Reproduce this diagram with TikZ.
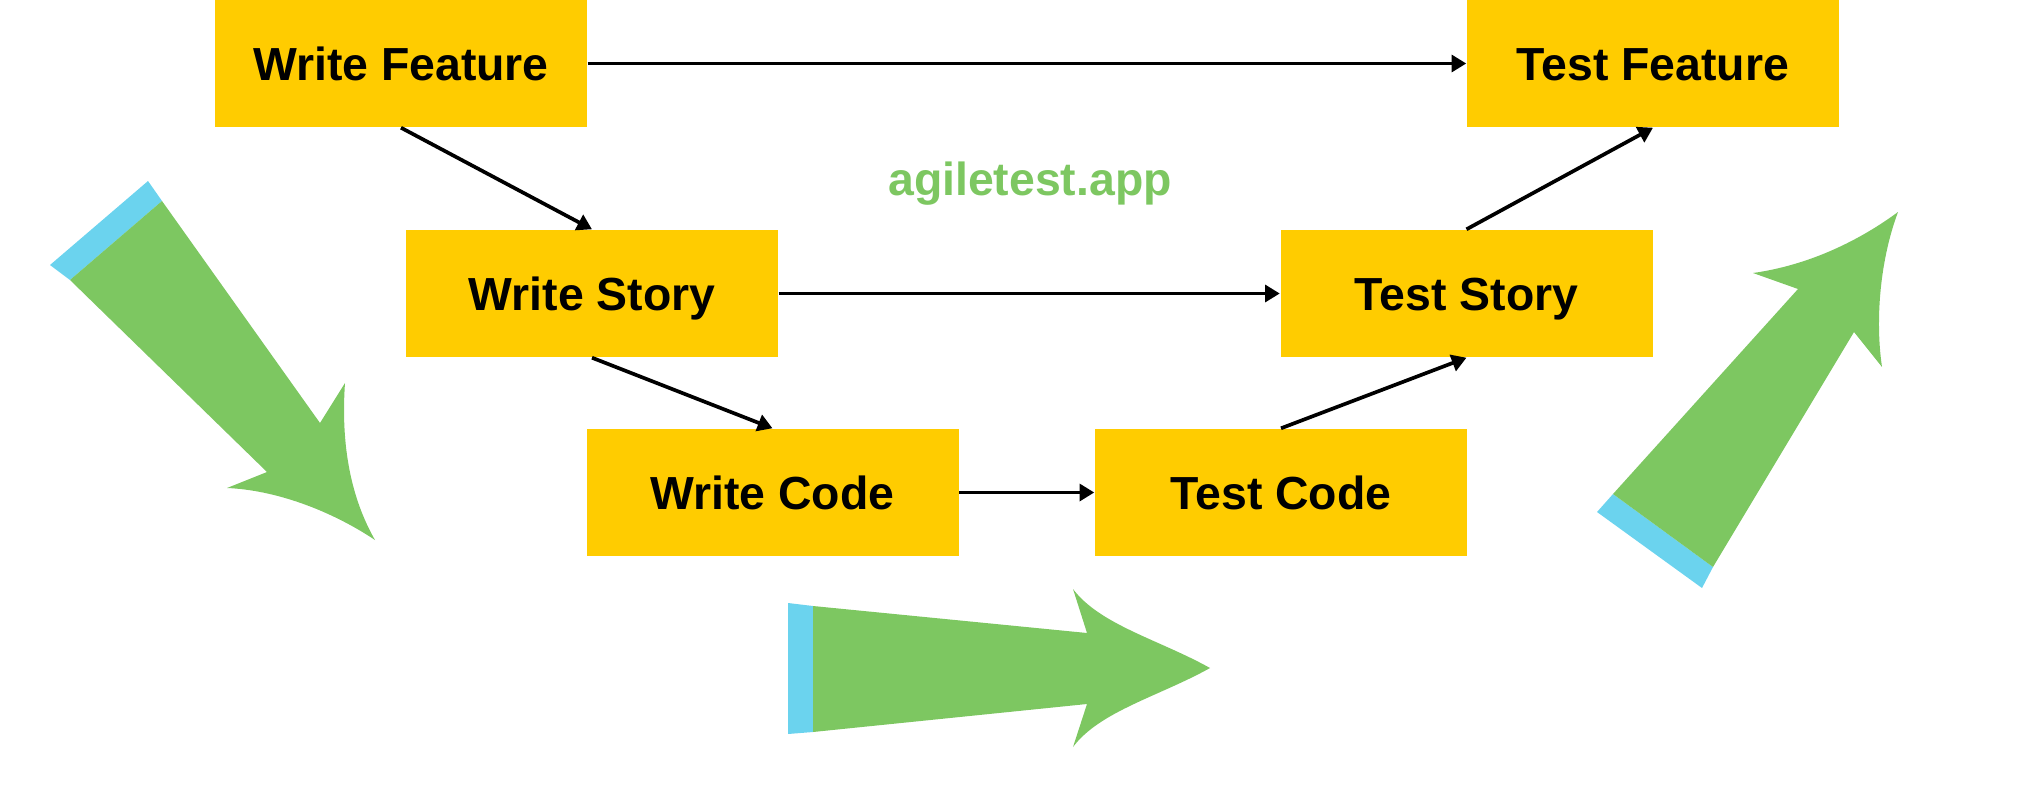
\documentclass[tikz,border=0pt]{standalone}
\usepackage{fontspec}
\setmainfont{Liberation Sans}
\usetikzlibrary{arrows.meta}
\definecolor{figJaune}{RGB}{255,204,0}
\definecolor{figVert}{RGB}{125,199,97}
\definecolor{figCiel}{RGB}{107,211,238}
\begin{document}
\begin{tikzpicture}[
  x=1cm, y=1cm, every node/.style={font=\fontsize{13.2}{15}\selectfont\bfseries},
  tache/.style={fill=figJaune, minimum width=3.72cm, minimum height=1.27cm,
                inner sep=0pt, text height=9.45pt, text depth=0pt, anchor=center},
  fl/.style={-{Triangle[length=4.2pt,width=4.8pt]}, line width=1.05pt, black},
  fleche/.style={fill=figVert, draw=none},
  talon/.style={fill=figCiel, draw=none}
]
\useasboundingbox (0,0) rectangle (20.38,-7.88);

\node[tache] (wf) at (4.01,-0.635)  {Write Feature};
\node[tache] (tf) at (16.53,-0.635) {Test Feature};
\node[tache] (ws) at (5.92,-2.935)  {Write Story};
\node[tache] (ts) at (14.665,-2.935) {Test Story};
\node[tache] (wc) at (7.725,-4.925) {Write Code};
\node[tache] (tc) at (12.81,-4.925) {Test Code};

\node[text=figVert, anchor=base] (site) at (10.30,-1.95) {agiletest.app};

\draw[fl] (wf.east) -- (tf.west);
\draw[fl] (wf.south) -- (ws.north);
\draw[fl] (ws.east) -- (ts.west);
\draw[fl] (ws.south) -- (wc.north);
\draw[fl] (wc.east) -- (tc.west);
\draw[fl] (tc.north) -- (ts.south);
\draw[fl] (ts.north) -- (tf.south);

% grosses fleches : descente a gauche, passage en bas, remontee a droite
\fill[talon] (0.50,-2.65) -- (1.48,-1.81) -- (1.62,-2.01) -- (0.70,-2.80) -- cycle;
\fill[fleche] (0.70,-2.80) -- (1.62,-2.01) -- (3.20,-4.23) -- (3.45,-3.83)
      .. controls (3.40,-4.55) and (3.55,-5.05) .. (3.75,-5.40)
      .. controls (3.30,-5.10) and (2.75,-4.90) .. (2.27,-4.88) -- (2.67,-4.72) -- cycle;

\fill[talon] (7.88,-6.03) -- (8.13,-6.06) -- (8.13,-7.32) -- (7.88,-7.34) -- cycle;
\fill[fleche] (8.13,-6.06) -- (10.87,-6.33) -- (10.73,-5.89)
      .. controls (11.00,-6.25) and (11.60,-6.40) .. (12.10,-6.68)
      .. controls (11.60,-6.96) and (11.00,-7.11) .. (10.73,-7.47) -- (10.87,-7.04) -- (8.13,-7.32) -- cycle;

\fill[talon] (15.97,-5.12) -- (16.13,-4.94) -- (17.13,-5.67) -- (17.02,-5.88) -- cycle;
\fill[fleche] (16.13,-4.94) -- (17.98,-2.89) -- (17.53,-2.73)
      .. controls (18.10,-2.65) and (18.60,-2.40) .. (18.98,-2.12)
      .. controls (18.80,-2.60) and (18.75,-3.20) .. (18.82,-3.67) -- (18.54,-3.32) -- (17.13,-5.67) -- cycle;
\end{tikzpicture}
\end{document}
